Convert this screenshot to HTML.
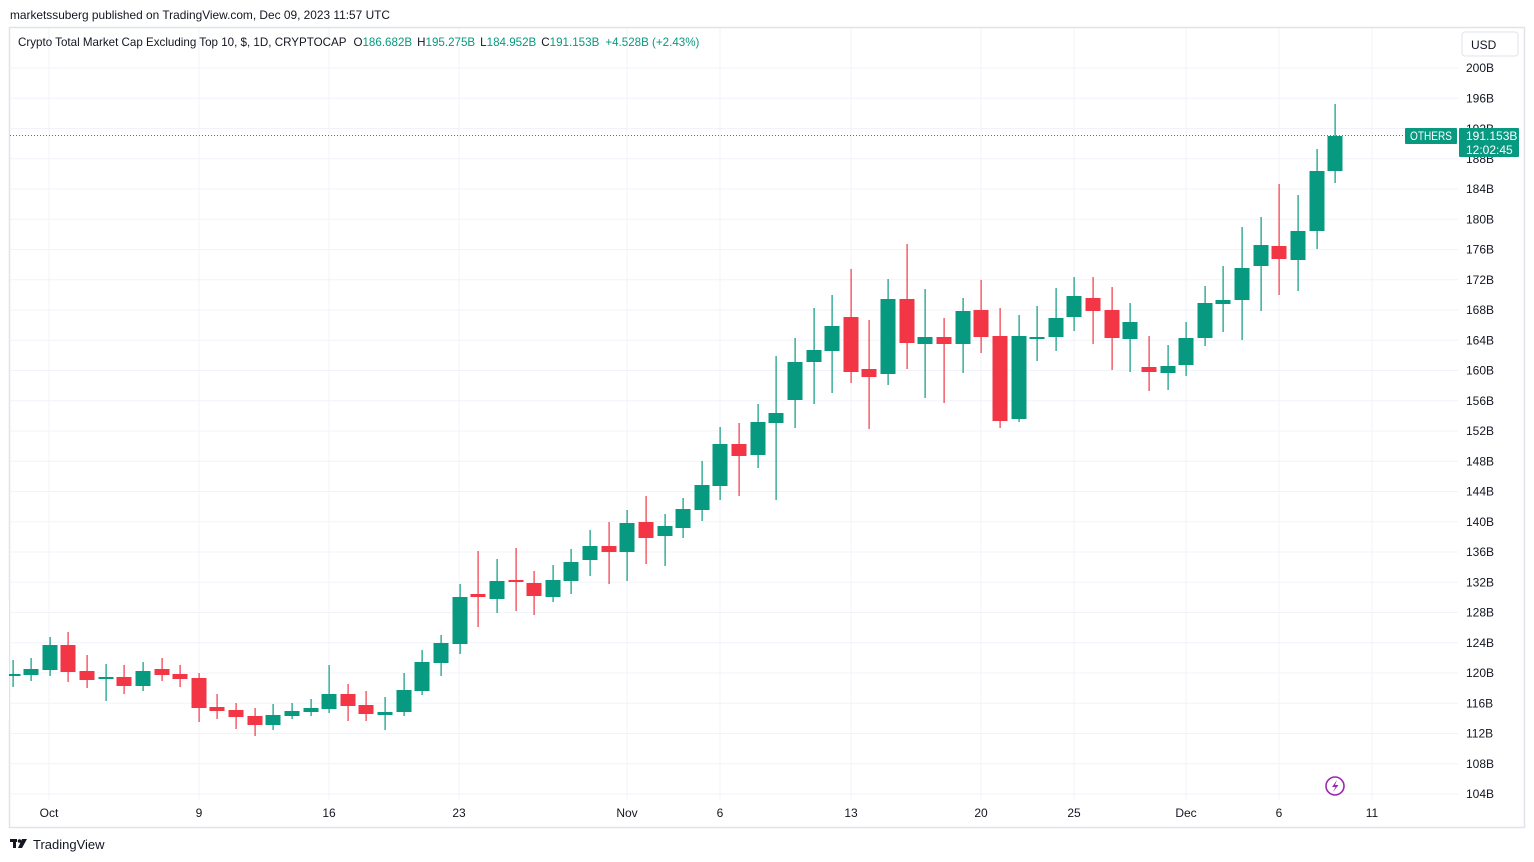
<!DOCTYPE html>
<html><head><meta charset="utf-8">
<style>
html,body{margin:0;padding:0;background:#fff;width:1534px;height:862px;overflow:hidden;font-family:"Liberation Sans",sans-serif}
svg{position:absolute;left:0;top:0}
</style></head>
<body>
<svg id="s" width="1534" height="862" xmlns="http://www.w3.org/2000/svg" font-family="Liberation Sans, sans-serif">
<rect x="9.5" y="27.5" width="1515" height="800" fill="#fff" stroke="#e0e3eb" stroke-width="1.5"/>
<g id="grid" stroke="#f0f3fa" stroke-width="1"></g>
<g id="candles"></g>
<line x1="10" y1="135.5" x2="1458" y2="135.5" stroke="#089981" stroke-width="1" stroke-dasharray="1,2"/>
<g id="axis" font-size="12" fill="#131722"></g>
<text x="10" y="19" font-size="12" fill="#131722" textLength="380" lengthAdjust="spacingAndGlyphs">marketssuberg published on TradingView.com, Dec 09, 2023 11:57 UTC</text>
<text x="18" y="46" font-size="11.6" fill="#131722">Crypto Total Market Cap Excluding Top 10, $, 1D, CRYPTOCAP <tspan dx="4">O</tspan><tspan fill="#089981">186.682B</tspan><tspan dx="5">H</tspan><tspan fill="#089981">195.275B</tspan><tspan dx="5">L</tspan><tspan fill="#089981">184.952B</tspan><tspan dx="5">C</tspan><tspan fill="#089981">191.153B</tspan><tspan dx="6" fill="#089981">+4.528B (+2.43%)</tspan></text>
<rect x="1462" y="32" width="56" height="24" rx="3" fill="#fff" stroke="#e0e3eb"/>
<text x="1471" y="49" font-size="12" fill="#131722">USD</text>
<rect x="1405" y="128" width="52" height="16" rx="1" fill="#089981"/>
<text x="1410" y="140" font-size="12" fill="#fff" textLength="42" lengthAdjust="spacingAndGlyphs">OTHERS</text>
<rect x="1459" y="128" width="60" height="29" rx="1" fill="#089981"/>
<text x="1466" y="140" font-size="12" fill="#fff">191.153B</text>
<text x="1466" y="154" font-size="12" fill="#fff">12:02:45</text>
<circle cx="1335" cy="786" r="9" fill="none" stroke="#9c27b0" stroke-width="1.6"/>
<path d="M1337 780 L1332 787 L1335.5 787 L1333 792 L1338.5 785 L1335 785 Z" fill="#9c27b0"/>
<g transform="translate(10,838)" fill="#131722"><rect x="0" y="1" width="7" height="3"/><rect x="3" y="1" width="3" height="9"/><circle cx="9.5" cy="3" r="1.8"/><path d="M12 1 L17 1 L12 10 L8 10 Z"/></g>
<text x="33" y="849" font-size="13" fill="#131722">TradingView</text>
</svg>
<script>
var NS="http://www.w3.org/2000/svg";
function el(p,t,a,txt){var e=document.createElementNS(NS,t);for(var k in a)e.setAttribute(k,a[k]);if(txt)e.textContent=txt;p.appendChild(e);return e;}
var grid=document.getElementById('grid'),ax=document.getElementById('axis'),cg=document.getElementById('candles');
for(var k=0;k<=24;k++){var y=68+k*30.25;el(grid,'line',{x1:10,x2:1458,y1:y,y2:y});
 var v=200-4*k;if(v!=192)el(ax,'text',{x:1466,y:y+4},v+'B');}
el(ax,'text',{x:1466,y:133},'192B');
var dates=[[49,'Oct'],[199,'9'],[329,'16'],[459,'23'],[627,'Nov'],[720,'6'],[851,'13'],[981,'20'],[1074,'25'],[1186,'Dec'],[1279,'6'],[1372,'11']];
dates.forEach(function(d){el(grid,'line',{x1:d[0],x2:d[0],y1:28,y2:800});
 var t=el(ax,'text',{x:d[0],y:817,'text-anchor':'middle'},d[1]);});
var C=[
[674,676,660,687,1],[669,675,658,681,1],[645,670,637,676,1],[645,672,632,682,0],[671,680,655,688,0],
[677,679,664,701,1],[677,686,665,694,0],[671,686,662,691,1],[669,675,658,681,0],[674,679,665,687,0],
[678,708,673,722,0],[707,711,694,719,0],[710,717,703,729,0],[716,725,708,736,0],[715,725,704,730,1],
[711,716,703,719,1],[708,712,699,716,1],[694,709,665,713,1],[694,706,684,721,0],[705,714,691,721,0],
[712,715,697,730,1],[690,712,673,716,1],[662,691,650,695,1],[643,663,635,676,1],[597,644,584,654,1],
[594,597,551,627,0],[581,599,559,613,1],[580,582,548,611,0],[583,596,571,615,0],[580,597,565,602,1],
[562,581,549,594,1],[546,560,530,576,1],[546,552,522,584,0],[523,552,510,581,1],[522,538,496,564,0],
[526,536,514,566,1],[509,528,498,538,1],[485,510,461,521,1],[444,486,427,500,1],[444,456,423,496,0],
[422,455,404,468,1],[413,423,356,500,1],[362,400,338,428,1],[350,362,308,404,1],[326,351,295,393,1],
[317,372,269,383,0],[369,377,320,429,0],[299,374,279,385,1],[299,343,244,369,0],[337,344,289,398,1],
[337,344,318,403,0],[311,344,298,373,1],[310,337,280,353,0],[336,421,308,428,0],[336,419,315,422,1],
[337,338,306,361,1],[318,337,288,351,1],[296,317,277,331,1],[298,311,277,344,0],[310,338,287,370,0],
[322,339,303,372,1],[367,372,336,391,0],[366,373,345,390,1],[338,365,322,376,1],[303,338,286,346,1],
[300,304,266,332,1],[268,300,227,340,1],[245,266,217,311,1],[246,259,184,295,0],[231,260,195,291,1],
[171,231,149,249,1],[136,171,104,183,1]];
C.forEach(function(c,i){var x=Math.round(12.5+i*18.63);var col=c[4]?'#089981':'#f23645';
 el(cg,'rect',{x:x-0.5,y:c[2],width:1.2,height:c[3]-c[2],fill:col});
 var h=Math.max(c[1]-c[0],2);el(cg,'rect',{x:x-7.5,y:c[0],width:15,height:h,fill:col});});
el(cg,'rect',{x:0,y:600,width:9,height:120,fill:'#fff'});
</script>
</body></html>
